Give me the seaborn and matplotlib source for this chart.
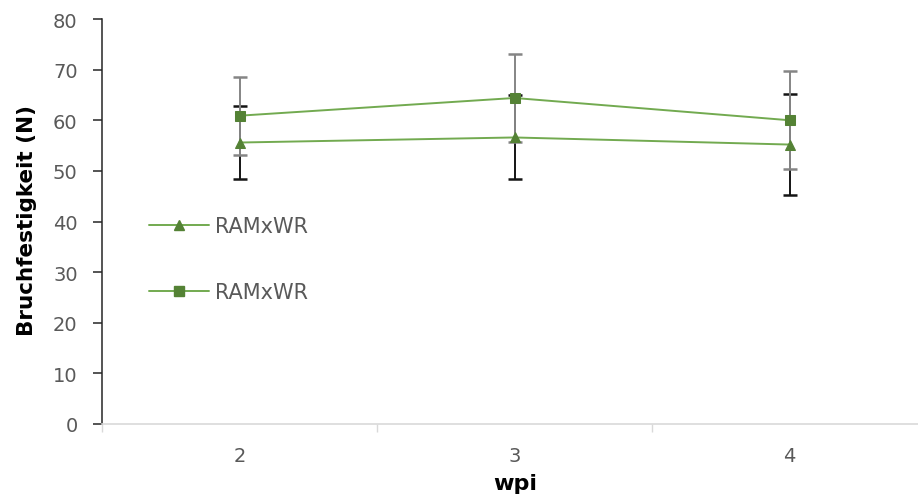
import numpy as np
import pandas as pd
import matplotlib
matplotlib.use("Agg")
import matplotlib.pyplot as plt
from matplotlib.lines import Line2D
import seaborn as sns

# Breaking strength (N) per week post infection
weeks = ["2", "3", "4"]
tri_mean = [55.6, 56.6, 55.2]
tri_sd = [7.3, 8.3, 10.0]
sq_mean = [60.9, 64.4, 60.0]
sq_sd = [7.7, 8.7, 9.7]
series_labels = ["RAMxWR", "RAMxWR"]
y_ticks = [0, 10, 20, 30, 40, 50, 60, 70, 80]

sns.set_theme(style="white")
plt.rcParams["font.family"] = ["DejaVu Sans"]

line_col = "#72aa50"
mark_col = "#548235"
text_col = "#595959"

W, H = 918, 502
fig = plt.figure(figsize=(W / 100, H / 100), dpi=100)
ax = fig.add_axes([102 / W, 77 / H, 825 / W, 405 / H])

pos = np.arange(len(weeks))
df = pd.DataFrame({
    "pos": np.concatenate([pos, pos]),
    "value": tri_mean + sq_mean,
    "series": ["tri"] * 3 + ["sq"] * 3,
})

# error bars: black for the triangle series, grey for the square series on top
ax.errorbar(pos, tri_mean, yerr=tri_sd, fmt="none", ecolor="#141414",
            elinewidth=1.4, capsize=4.8, capthick=1.8, zorder=2)
ax.errorbar(pos, sq_mean, yerr=sq_sd, fmt="none", ecolor="#858585",
            elinewidth=1.4, capsize=4.8, capthick=1.8, zorder=2.5)

tri_style = dict(color=line_col, lw=1.4, marker="^", markersize=7.5,
                 markerfacecolor=mark_col, markeredgecolor=mark_col)
sq_style = dict(color=line_col, lw=1.4, marker="s", markersize=7,
                markerfacecolor=mark_col, markeredgecolor=mark_col)

sns.lineplot(data=df[df.series == "tri"], x="pos", y="value", ax=ax, zorder=3,
             **tri_style)
sns.lineplot(data=df[df.series == "sq"], x="pos", y="value", ax=ax, zorder=3,
             **sq_style)

ax.set_xlim(-0.5, 2.5)
ax.set_ylim(0, 80)
ax.set_yticks(y_ticks)
ax.set_yticklabels([str(v) for v in y_ticks])

# category boundaries as major ticks, labels at category centres
ax.set_xticks([-0.5, 0.5, 1.5, 2.5])
ax.set_xticklabels([])
ax.set_xticks(pos, minor=True)
ax.set_xticklabels(weeks, minor=True)

ax.tick_params(axis="y", which="major", direction="out", length=6.5, width=1.1,
               color="#262626", labelcolor=text_col, labelsize=14, pad=11, left=True)
ax.tick_params(axis="x", which="major", direction="out", length=6, width=1,
               color="#d9d9d9", bottom=True)
ax.tick_params(axis="x", which="minor", length=0, labelcolor=text_col,
               labelsize=14, pad=16)

for s in ["top", "right"]:
    ax.spines[s].set_visible(False)
ax.spines["left"].set_color("#262626")
ax.spines["left"].set_linewidth(1.1)
ax.spines["bottom"].set_color("#d9d9d9")
ax.spines["bottom"].set_linewidth(1.2)

ax.set_xlabel("")
ax.set_ylabel("")
fig.text(515 / W, (H - 490) / H, "wpi", fontsize=16, fontweight="bold",
         color="black", ha="center", va="baseline")
fig.text(27 / W, (H - 220) / H, "Bruchfestigkeit (N)", fontsize=15.5,
         fontweight="bold", color="black", ha="center", va="center", rotation=90)

handles = [Line2D([], [], **tri_style), Line2D([], [], **sq_style)]
leg = ax.legend(handles, series_labels, loc="upper left",
                bbox_to_anchor=(141 / W, 1 - 209 / H), bbox_transform=fig.transFigure,
                frameon=False, handlelength=2.85, handletextpad=0.28,
                labelspacing=2.2, fontsize=15, borderpad=0.4, borderaxespad=0)
for t in leg.get_texts():
    t.set_color(text_col)

fig.savefig("out.png", dpi=100)
